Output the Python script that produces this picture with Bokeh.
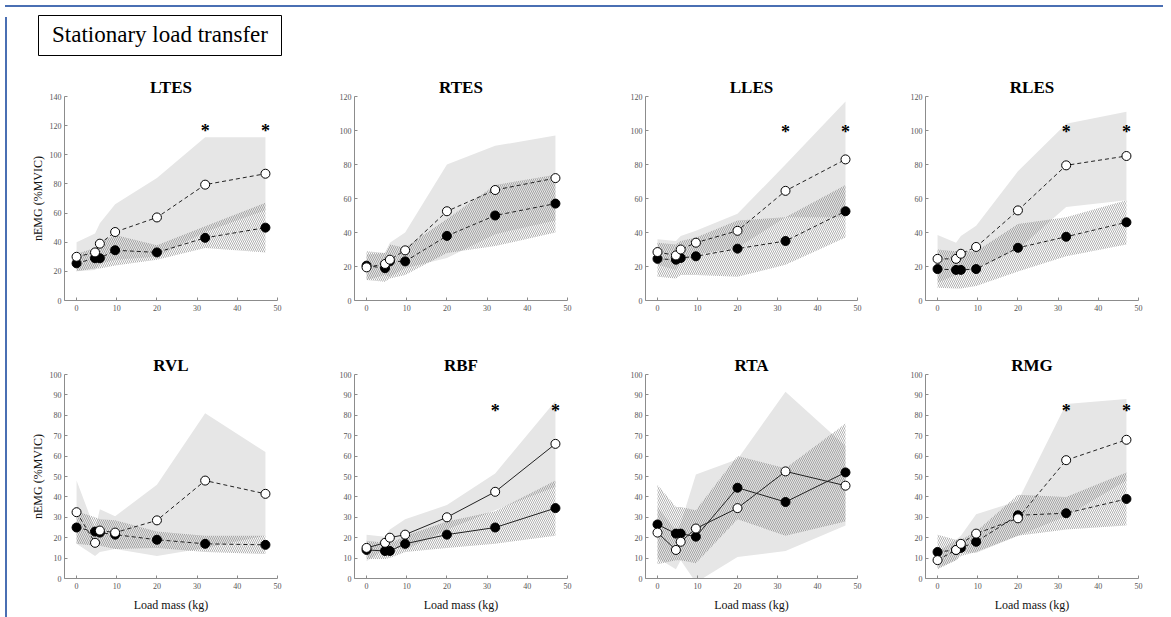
from bokeh.plotting import figure
from bokeh.layouts import row, column
from bokeh.models import Range1d, Div, FixedTicker
from bokeh.embed import file_html
from bokeh.resources import INLINE
from bokeh.core.properties import value

# ---------------- data ----------------
load_kg = [0, 4.6, 5.8, 9.6, 20, 32, 47]
star_kg = [32, 47]
x_ticks = [0, 10, 20, 30, 40, 50]
y_ticks_140 = [0, 20, 40, 60, 80, 100, 120, 140]
y_ticks_120 = [0, 20, 40, 60, 80, 100, 120]
y_ticks_100 = [0, 10, 20, 30, 40, 50, 60, 70, 80, 90, 100]

muscles = ["LTES", "RTES", "LLES", "RLES", "RVL", "RBF", "RTA", "RMG"]

ltes_open = [30, 33, 39, 47, 57, 79.5, 87]
ltes_filled = [25.5, 29, 29, 34.5, 33, 43, 50]
ltes_grey_hi = [40, 46, 53, 66, 84, 112, 112]
ltes_grey_lo = [20, 21, 25, 28, 30, 47, 62]
ltes_hatch_hi = [32, 36, 40, 45, 38, 51, 67]
ltes_hatch_lo = [20, 22, 22, 24, 28, 36, 33]

rtes_open = [19.5, 21.5, 24, 29.5, 52.5, 65, 72]
rtes_filled = [20.5, 19, 23, 23, 38, 50, 57]
rtes_grey_hi = [27, 28, 34, 40, 80, 91, 97]
rtes_grey_lo = [12, 15, 14, 19, 25, 39, 47]
rtes_hatch_hi = [29, 28, 33, 31, 48, 68, 74]
rtes_hatch_lo = [12, 11, 13, 15, 28, 32, 40]

lles_open = [28.5, 26.5, 30, 34, 41, 64.5, 83]
lles_filled = [24.5, 24, 25, 26, 30.5, 35, 52.5]
lles_grey_hi = [36, 35, 38, 41, 51, 80, 117]
lles_grey_lo = [21, 18, 22, 27, 31, 49, 49]
lles_hatch_hi = [34, 33, 35, 37, 47, 49, 68]
lles_hatch_lo = [14, 13, 15, 15, 14, 21, 37]

rles_open = [24.5, 24.5, 27.5, 31.5, 53, 79.5, 85]
rles_filled = [18.5, 18, 18, 18.5, 31, 37.5, 46]
rles_grey_hi = [38.5, 34, 38, 44, 76, 104, 111]
rles_grey_lo = [10.5, 15, 17, 19, 30, 55, 59]
rles_hatch_hi = [30, 29, 29, 29, 45, 49, 59]
rles_hatch_lo = [7.5, 7, 7, 8.5, 17, 26, 33]

rvl_open = [32.5, 17.5, 23.5, 22.5, 28.5, 48, 41.5]
rvl_filled = [25, 23, 22.5, 21.5, 19, 17, 16.5]
rvl_grey_hi = [48, 24, 34, 30.5, 46, 81, 62]
rvl_grey_lo = [17, 11, 13, 14.5, 11, 15, 21]
rvl_hatch_hi = [33, 30, 29, 28.5, 23, 21, 21]
rvl_hatch_lo = [17, 16, 16, 14.5, 15, 13, 12]

rbf_open = [15, 17.5, 20, 21.5, 30, 42.5, 66]
rbf_filled = [14, 13.5, 13.5, 17, 21.5, 25, 34.5]
rbf_grey_hi = [21.5, 20.5, 24, 29, 36, 51.5, 87]
rbf_grey_lo = [8.5, 14.5, 16, 14, 24, 33.5, 45]
rbf_hatch_hi = [18.5, 17.5, 17, 21, 28, 33, 48]
rbf_hatch_lo = [9.5, 9.5, 10, 13, 15, 17, 21]

rta_open = [22.5, 14, 18, 24.5, 34.5, 52.5, 45.5]
rta_filled = [26.5, 22, 22, 20.5, 44.5, 37.5, 52]
rta_grey_hi = [35, 23.5, 27, 51, 58.5, 91.5, 65]
rta_grey_lo = [10, 4.5, 9, -2, 10.5, 13.5, 26]
rta_hatch_hi = [46, 35, 35, 33.5, 60, 54, 76]
rta_hatch_lo = [7, 9, 9, 7.5, 29, 21, 28]

rmg_open = [9, 14, 17, 22, 29.5, 58, 68]
rmg_filled = [13, 14, 15, 18, 31, 32, 39]
rmg_grey_hi = [13, 19, 21, 31.5, 38, 85.5, 88]
rmg_grey_lo = [5, 9, 13, 12.5, 21, 30.5, 48]
rmg_hatch_hi = [21.5, 19, 19, 23, 41, 40, 52]
rmg_hatch_lo = [4.5, 9, 11, 13, 21, 24, 26]

# y position of significance asterisks (None = no asterisk)
star_levels = [116, None, 99, 99, None, 82, None, 82]
y_max = [140, 120, 120, 120, 100, 100, 100, 100]
y_tick_sets = [y_ticks_140, y_ticks_120, y_ticks_120, y_ticks_120,
               y_ticks_100, y_ticks_100, y_ticks_100, y_ticks_100]
dashed = [True, True, True, True, True, False, False, True]

series = [
    (ltes_open, ltes_filled, ltes_grey_hi, ltes_grey_lo, ltes_hatch_hi, ltes_hatch_lo),
    (rtes_open, rtes_filled, rtes_grey_hi, rtes_grey_lo, rtes_hatch_hi, rtes_hatch_lo),
    (lles_open, lles_filled, lles_grey_hi, lles_grey_lo, lles_hatch_hi, lles_hatch_lo),
    (rles_open, rles_filled, rles_grey_hi, rles_grey_lo, rles_hatch_hi, rles_hatch_lo),
    (rvl_open, rvl_filled, rvl_grey_hi, rvl_grey_lo, rvl_hatch_hi, rvl_hatch_lo),
    (rbf_open, rbf_filled, rbf_grey_hi, rbf_grey_lo, rbf_hatch_hi, rbf_hatch_lo),
    (rta_open, rta_filled, rta_grey_hi, rta_grey_lo, rta_hatch_hi, rta_hatch_lo),
    (rmg_open, rmg_filled, rmg_grey_hi, rmg_grey_lo, rmg_hatch_hi, rmg_hatch_lo),
]

# ---------------- layout / style ----------------
SERIF = "Liberation Serif"
left_borders = [52, 47, 46, 38]
frame_widths = [213, 213, 212, 213]
right_borders = [30, 32, 30, 28]
FRAME_H = 204


def make_panel(i):
    col = i % 4
    top_row = i < 4
    o, f, ghi, glo, hhi, hlo = series[i]
    p = figure(
        output_backend="svg", toolbar_location=None,
        frame_width=frame_widths[col], frame_height=FRAME_H,
        min_border_left=left_borders[col], min_border_right=right_borders[col],
        min_border_top=34 if top_row else 37,
        min_border_bottom=37 if top_row else 38,
        x_range=Range1d(-3, 50), y_range=Range1d(0, y_max[i]),
        title=muscles[i],
    )
    p.title.align = "center"
    p.title.text_font = SERIF
    p.title.text_font_size = "17px"
    p.title.text_font_style = "bold"
    p.title.text_color = "black"
    p.title.standoff = 0
    p.outline_line_color = None
    p.xgrid.visible = False
    p.ygrid.visible = False
    p.background_fill_color = "white"
    p.border_fill_color = "white"

    for ax in (p.xaxis[0], p.yaxis[0]):
        ax.axis_line_color = "#8c8c8c"
        ax.major_tick_line_color = "#8c8c8c"
        ax.major_tick_in = 3
        ax.major_tick_out = 0
        ax.minor_tick_line_color = None
        ax.major_label_text_font = SERIF
        ax.major_label_text_font_size = "8px"
        ax.major_label_text_color = "#555555"
        ax.major_label_standoff = 4
        ax.axis_label_text_font = SERIF
        ax.axis_label_text_font_size = "12px"
        ax.axis_label_text_font_style = "normal"
        ax.axis_label_text_color = "#111111"
    p.xaxis.ticker = FixedTicker(ticks=x_ticks)
    p.yaxis.ticker = FixedTicker(ticks=y_tick_sets[i])
    p.yaxis.major_label_standoff = 3
    if col == 0:
        p.yaxis.axis_label = "nEMG (%MVIC)"
        p.yaxis.axis_label_standoff = 2
    if not top_row:
        p.xaxis.axis_label = "Load mass (kg)"
        p.xaxis.axis_label_standoff = 6

    p.varea(x=load_kg, y1=glo, y2=ghi, fill_color="#e6e6e6", fill_alpha=1)
    p.varea(x=load_kg, y1=hlo, y2=hhi, fill_alpha=0,
            hatch_pattern="\\", hatch_color="#626262",
            hatch_weight=0.5, hatch_scale=4, hatch_alpha=1)

    dash = "4 3" if dashed[i] else "solid"
    p.line(load_kg, f, line_color="#222222", line_width=1, line_dash=dash)
    p.scatter(load_kg, f, size=9, marker="circle", fill_color="black",
              line_color="black", line_width=1)
    p.line(load_kg, o, line_color="#222222", line_width=1, line_dash=dash)
    p.scatter(load_kg, o, size=9, marker="circle", fill_color="white",
              line_color="black", line_width=1)

    if star_levels[i] is not None:
        p.text(x=star_kg, y=[star_levels[i]] * len(star_kg), text=["*"] * len(star_kg),
               text_font=value(SERIF), text_font_style="bold",
               text_font_size="18px", text_align="center",
               text_baseline="middle", text_color="black")
    return p


panels = [make_panel(i) for i in range(8)]

# Title box figure
INNER_W = sum(left_borders) + sum(frame_widths) + sum(right_borders)
tfig = figure(output_backend="svg", toolbar_location=None,
              width=INNER_W, height=50, min_border=0,
              x_range=Range1d(0, INNER_W), y_range=Range1d(0, 50))
tfig.axis.visible = False
tfig.grid.visible = False
tfig.outline_line_color = None
tfig.quad(left=[26], right=[269], bottom=[7], top=[47],
          fill_color="white", line_color="black", line_width=1)
tfig.text(x=[147.5], y=[28.5], text=["Stationary load transfer"],
          text_font=value(SERIF), text_font_size="23px",
          text_align="center", text_baseline="middle", text_color="black")

inner = column(tfig, row(*panels[:4]), row(*panels[4:]), spacing=0)

BLUE = "#4a6fb3"
INNER_H = 50 + (34 + FRAME_H + 37) + (37 + FRAME_H + 38)
top_line = Div(text="", width=INNER_W + 4, height=2,
               styles={"background-color": BLUE})
left_line = Div(text="", width=2, height=INNER_H,
                styles={"background-color": BLUE})
right_line = Div(text="", width=2, height=INNER_H,
                 styles={"background-color": BLUE})

root = column(top_line, row(left_line, inner, right_line, spacing=0), spacing=0)

open("out.html", "w").write(file_html(root, INLINE))
